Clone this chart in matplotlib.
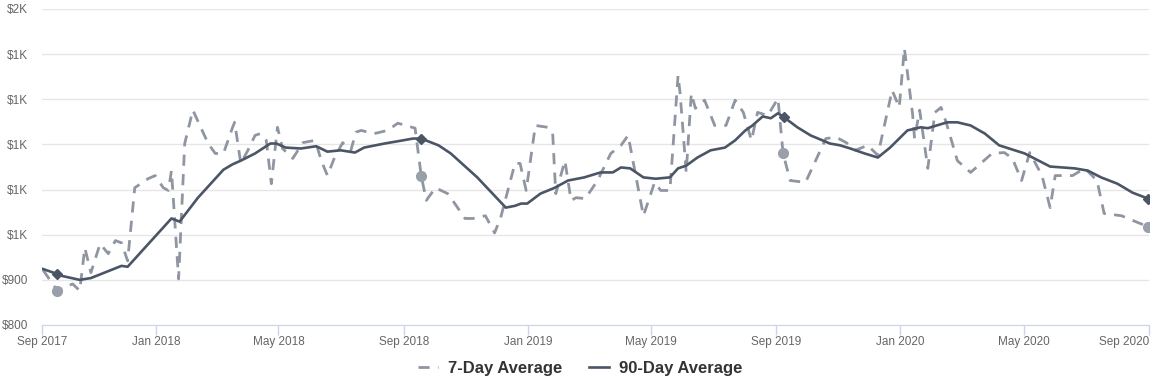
import numpy as np
import pandas as pd
import matplotlib
matplotlib.use("Agg")
import matplotlib.pyplot as plt
import matplotlib.ticker as mticker

plt.rcParams['font.family'] = ['Liberation Sans', 'DejaVu Sans']

## Values
# 7-Day Average (dashed)
dates_7day = ['2017-09-12', '2017-09-26', '2017-10-07', '2017-10-11', '2017-10-18', '2017-10-23',
              '2017-10-29', '2017-11-07', '2017-11-15', '2017-11-22', '2017-11-28', '2017-12-04',
              '2017-12-11', '2017-12-24', '2017-12-31', '2018-01-08', '2018-01-13', '2018-01-16',
              '2018-01-23', '2018-01-29', '2018-02-06', '2018-02-21', '2018-02-28', '2018-03-08',
              '2018-03-17', '2018-03-19', '2018-03-25', '2018-04-01', '2018-04-08', '2018-04-13',
              '2018-04-19', '2018-04-24', '2018-04-30', '2018-05-05', '2018-05-15', '2018-05-25',
              '2018-06-06', '2018-06-12', '2018-06-18', '2018-06-25', '2018-07-03', '2018-07-11',
              '2018-07-16', '2018-07-21', '2018-08-03', '2018-08-16', '2018-08-26', '2018-09-03',
              '2018-09-12', '2018-09-18', '2018-09-23', '2018-10-02', '2018-10-14', '2018-10-17',
              '2018-10-31', '2018-11-08', '2018-11-20', '2018-11-29', '2018-12-05', '2018-12-19',
              '2018-12-24', '2018-12-30', '2019-01-08', '2019-01-20', '2019-01-25', '2019-01-28',
              '2019-02-06', '2019-02-12', '2019-02-17', '2019-02-26', '2019-03-10', '2019-03-23',
              '2019-04-02', '2019-04-09', '2019-04-24', '2019-05-05', '2019-05-11', '2019-05-20',
              '2019-05-28', '2019-05-30', '2019-06-05', '2019-06-10', '2019-06-14', '2019-06-23',
              '2019-07-03', '2019-07-14', '2019-07-23', '2019-07-31', '2019-08-08', '2019-08-14',
              '2019-08-24', '2019-09-03', '2019-09-08', '2019-09-15', '2019-09-30', '2019-10-20',
              '2019-10-30', '2019-11-09', '2019-11-18', '2019-11-30', '2019-12-10', '2019-12-24',
              '2019-12-31', '2020-01-05', '2020-01-13', '2020-01-15', '2020-01-20', '2020-01-28',
              '2020-02-04', '2020-02-10', '2020-02-15', '2020-02-26', '2020-03-10', '2020-03-31',
              '2020-04-12', '2020-04-20', '2020-04-29', '2020-05-07', '2020-05-19', '2020-05-27',
              '2020-06-01', '2020-06-18', '2020-06-30', '2020-07-12', '2020-07-19', '2020-08-05',
              '2020-08-21', '2020-08-31']
values_7day = [922, 876, 887, 891, 876, 971,
               916, 980, 958, 987, 982, 942,
               1104, 1124, 1131, 1104, 1098, 1142,
               902, 1202, 1276, 1202, 1180, 1180,
               1238, 1249, 1158, 1187, 1220, 1224,
               1209, 1113, 1238, 1191, 1169, 1204,
               1209, 1164, 1131, 1171, 1204, 1187,
               1227, 1231, 1224, 1231, 1247, 1242,
               1236, 1131, 1076, 1104, 1091, 1082,
               1036, 1036, 1042, 1004, 1038, 1158,
               1158, 1098, 1242, 1238, 1224, 1091,
               1164, 1076, 1082, 1080, 1120, 1180,
               1198, 1220, 1042, 1116, 1098, 1098,
               1353, 1313, 1138, 1313, 1280, 1298,
               1242, 1242, 1298, 1271, 1209, 1271,
               1264, 1302, 1180, 1120, 1116, 1213,
               1216, 1204, 1187, 1198, 1176, 1320,
               1282, 1413, 1269, 1213, 1276, 1147,
               1271, 1282, 1249, 1164, 1138, 1180,
               1182, 1169, 1120, 1182, 1131, 1060,
               1131, 1131, 1147, 1120, 1047, 1042,
               1027, 1018]

# 90-Day Average (solid)
dates_90day = ['2017-09-12', '2017-09-26', '2017-09-30', '2017-10-18', '2017-10-29', '2017-11-28',
               '2017-12-04', '2018-01-16', '2018-01-24', '2018-02-11', '2018-03-08', '2018-03-17',
               '2018-03-25', '2018-04-08', '2018-04-23', '2018-04-29', '2018-05-08', '2018-05-23',
               '2018-06-07', '2018-06-18', '2018-07-01', '2018-07-15', '2018-07-24', '2018-08-13',
               '2018-08-26', '2018-09-10', '2018-09-18', '2018-10-05', '2018-10-17', '2018-11-12',
               '2018-12-10', '2018-12-19', '2018-12-25', '2018-12-31', '2019-01-13', '2019-01-27',
               '2019-02-09', '2019-02-25', '2019-03-13', '2019-03-25', '2019-04-02', '2019-04-11',
               '2019-04-24', '2019-05-06', '2019-05-20', '2019-05-28', '2019-06-05', '2019-06-16',
               '2019-06-29', '2019-07-13', '2019-07-23', '2019-08-02', '2019-08-09', '2019-08-19',
               '2019-08-27', '2019-09-03', '2019-09-09', '2019-09-22', '2019-10-05', '2019-10-24',
               '2019-11-03', '2019-11-13', '2019-11-27', '2019-12-10', '2019-12-22', '2020-01-08',
               '2020-01-21', '2020-01-28', '2020-02-16', '2020-02-26', '2020-03-10', '2020-03-24',
               '2020-04-07', '2020-05-02', '2020-05-27', '2020-06-20', '2020-07-03', '2020-07-16',
               '2020-08-01', '2020-08-16', '2020-08-31']
values_90day = [924, 913, 909, 900, 904, 931,
                929, 1036, 1029, 1082, 1144, 1156,
                1164, 1180, 1202, 1202, 1193, 1191,
                1196, 1184, 1187, 1182, 1193, 1202,
                1207, 1213, 1213, 1198, 1180, 1127,
                1060, 1064, 1069, 1069, 1091, 1104,
                1120, 1127, 1138, 1138, 1149, 1147,
                1127, 1124, 1127, 1147, 1153, 1171,
                1187, 1193, 1209, 1231, 1242, 1262,
                1258, 1269, 1260, 1238, 1220, 1202,
                1198, 1191, 1180, 1171, 1193, 1231,
                1238, 1236, 1249, 1249, 1242, 1224,
                1198, 1180, 1151, 1147, 1142, 1127,
                1113, 1093, 1080]

# highlighted points, roughly one per year
marker_dates_7day = ['2017-09-26', '2018-09-18', '2019-09-08', '2020-08-31']
marker_values_7day = [876, 1131, 1180, 1018]
marker_dates_90day = ['2017-09-26', '2018-09-18', '2019-09-09', '2020-08-31']
marker_values_90day = [913, 1213, 1260, 1080]

# axes
tick_dates = ['2017-09-11', '2018-01-01', '2018-05-01', '2018-09-01', '2019-01-01',
              '2019-05-01', '2019-09-01', '2020-01-01', '2020-05-01', '2020-09-01']
tick_labels = ['Sep 2017', 'Jan 2018', 'May 2018', 'Sep 2018', 'Jan 2019',
               'May 2019', 'Sep 2019', 'Jan 2020', 'May 2020', 'Sep 2020']
y_ticks = [800, 900, 1000, 1100, 1200, 1300, 1400, 1500]

## Colours
c_7day = '#8f96a1'
c_90day = '#4b5566'


def money(v, pos):
    if v >= 1000:
        return f"${v / 1000:.0f}K"
    return f"${v:.0f}"


fig = plt.figure(figsize=(11.6, 3.88), dpi=100)
ax = fig.add_axes([42 / 1160, 1 - 325 / 388, 1107 / 1160, 316 / 388])

ax.plot(pd.to_datetime(dates_7day), values_7day, color=c_7day, lw=2.0,
        dashes=(4, 3), label='7-Day Average', zorder=3)
ax.plot(pd.to_datetime(dates_90day), values_90day, color=c_90day, lw=1.9,
        label='90-Day Average', zorder=4)
ax.plot(pd.to_datetime(marker_dates_7day), marker_values_7day, ls='none', marker='o',
        ms=7, color='#9aa0a9', zorder=5)
ax.plot(pd.to_datetime(marker_dates_90day), marker_values_90day, ls='none', marker='D',
        ms=5, color=c_90day, zorder=6)

ax.set_xlim(pd.Timestamp('2017-09-11'), pd.Timestamp('2020-09-01'))
ax.set_ylim(800, 1500)

ax.set_yticks(y_ticks)
ax.yaxis.set_major_formatter(mticker.FuncFormatter(money))
ax.tick_params(axis='y', length=0, pad=10, labelsize=8.5, labelcolor='#666666')
ax.grid(axis='y', color='#e6e6e6', lw=1)
ax.set_axisbelow(True)

ax.set_xticks(pd.to_datetime(tick_dates))
ax.set_xticklabels(tick_labels)
ax.tick_params(axis='x', length=7, width=1, color='#ccd6eb', pad=1,
               labelsize=8.5, labelcolor='#666666')
ax.get_xticklabels()[-1].set_horizontalalignment('right')

for s in ['top', 'right', 'left']:
    ax.spines[s].set_visible(False)
ax.spines['bottom'].set_color('#ccd6eb')

leg = fig.legend(loc='center', bbox_to_anchor=(0.5, 1 - 368 / 388), ncol=2, frameon=False,
                 handlelength=1.2, handletextpad=0.6, columnspacing=1.6,
                 prop={'size': 12, 'weight': 'bold'})
for t in leg.get_texts():
    t.set_color('#333333')

fig.savefig('out.png', dpi=100)
